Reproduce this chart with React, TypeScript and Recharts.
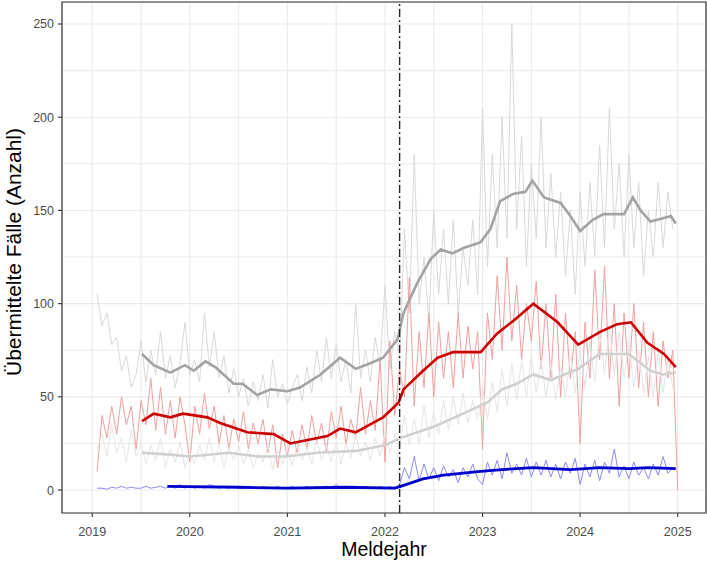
import React from "react";
import {
  LineChart,
  Line,
  XAxis,
  YAxis,
  CartesianGrid,
  ReferenceLine,
  ReferenceArea,
} from "recharts";

// axis ranges and ticks (minor ticks are only used for grid lines)
const X_MIN = 2018.69;
const X_MAX = 2025.29;
const Y_MIN = -12.3;
const Y_MAX = 261.8;
const X_TICKS = [2019, 2019.5, 2020, 2020.5, 2021, 2021.5, 2022, 2022.5, 2023, 2023.5, 2024, 2024.5, 2025];
const Y_TICKS = [0, 25, 50, 75, 100, 125, 150, 175, 200, 225, 250];

// marker line (dash-dot)
const EVENT_YEAR = 2022.15;

// noisy series: one value per sample, samples start at NOISE_START
const NOISE_START = 2019.05;
const NOISE_STEP = 0.05;

const grayNoise = [
  105, 88, 95, 78, 82, 64, 72, 55, 62, 80,
  58, 75, 62, 85, 60, 72, 55, 68, 90, 62,
  70, 58, 95, 66, 85, 60, 72, 52, 65, 50,
  60, 45, 58, 48, 62, 44, 70, 50, 57, 46,
  55, 62, 48, 66, 52, 75, 58, 82, 60, 78,
  58, 70, 52, 100, 60, 75, 58, 82, 66, 110,
  65, 85, 70, 140, 95, 180, 100, 125, 90, 150,
  105, 140, 100, 145, 95, 130, 110, 145, 105, 205,
  120, 180, 130, 200, 135, 250, 140, 190, 120, 175,
  135, 200, 130, 170, 125, 160, 115, 150, 105, 160,
  120, 165, 125, 185, 130, 205, 140, 175, 125, 180,
  130, 165, 115, 150, 125, 165, 130, 160, 140,
];

const redNoise = [
  10, 40, 28, 45, 30, 50, 35, 45, 22, 48,
  35, 60, 32, 55, 30, 48, 28, 50, 35, 15,
  45, 30, 52, 33, 45, 25, 40, 22, 38, 26,
  42, 22, 36, 25, 38, 20, 35, 12, 30, 18,
  32, 20, 35, 22, 40, 25, 36, 20, 42, 28,
  45, 25, 38, 28, 55, 30, 48, 32, 70, 15,
  80, 40, 65, 50, 114, 45, 85, 55, 95, 50,
  90, 60, 85, 55, 95, 60, 88, 65, 85, 22,
  95, 70, 115, 75, 125, 80, 110, 70, 100, 80,
  112, 65, 100, 60, 105, 50, 95, 60, 85, 25,
  90, 60, 118, 70, 120, 60, 100, 45, 95, 60,
  100, 55, 90, 50, 85, 45, 80, 60, 75, 0,
];

const lightNoise = [
  22, 30, 18, 35, 20, 28, 15, 32, 18, 25,
  14, 24, 16, 28, 12, 22, 15, 26, 12, 20,
  14, 24, 16, 28, 15, 25, 12, 23, 16, 24,
  14, 22, 12, 20, 15, 24, 11, 21, 14, 22,
  13, 25, 16, 23, 14, 27, 16, 24, 15, 26,
  14, 25, 17, 30, 18, 26, 16, 28, 18, 32,
  20, 30, 22, 40, 24, 38, 25, 45, 28, 42,
  30, 48, 32, 50, 35, 52, 36, 48, 38, 55,
  38, 58, 42, 65, 45, 68, 48, 70, 50, 72,
  52, 70, 50, 68, 48, 66, 50, 72, 52, 75,
  55, 80, 58, 85, 62, 88, 62, 85, 60, 80,
  55, 75, 52, 72, 50, 75, 52, 70, 55,
];

const blueNoise = [
  1, 1, 0.5, 1.5, 1, 2, 1, 1.5, 1, 1,
  2, 1, 1.5, 2, 1, 2, 1, 3, 1, 2,
  1, 2, 1, 3, 2, 1, 2, 1, 2, 1,
  1, 2, 1, 1, 2, 1, 1, 2, 1, 1,
  2, 1, 1, 2, 1, 2, 1, 2, 1, 3,
  1, 2, 1, 2, 1, 2, 1, 1, 2, 1,
  2, 1, 3, 12, 6, 18, 5, 14, 6, 12,
  5, 13, 7, 11, 4, 12, 7, 14, 6, 3,
  15, 8, 16, 6, 20, 9, 14, 8, 17, 7,
  15, 8, 16, 7, 14, 6, 15, 9, 17, 3,
  14, 7, 16, 5, 15, 9, 22, 7, 13, 6,
  15, 8, 12, 6, 14, 8, 18, 9, 12,
];

// smoothed series as [year, value]
const grayTrend = [
  [2019.51, 73], [2019.63, 67], [2019.8, 63], [2019.95, 67], [2020.04, 64],
  [2020.16, 69], [2020.26, 66], [2020.45, 57], [2020.54, 57], [2020.69, 51],
  [2020.83, 54], [2021.0, 53], [2021.13, 55], [2021.34, 62], [2021.54, 71],
  [2021.7, 65], [2021.85, 68], [2021.98, 71], [2022.13, 81], [2022.19, 95],
  [2022.33, 111], [2022.47, 124], [2022.57, 129], [2022.69, 127], [2022.81, 130],
  [2022.93, 132], [2022.98, 133], [2023.08, 140], [2023.18, 155], [2023.32, 159],
  [2023.44, 160], [2023.51, 166], [2023.63, 157], [2023.8, 154], [2023.9, 147],
  [2024.0, 139], [2024.13, 145], [2024.24, 148], [2024.45, 148], [2024.54, 157],
  [2024.62, 150], [2024.72, 144], [2024.86, 146], [2024.93, 147], [2024.98, 143],
];

const redTrend = [
  [2019.51, 37], [2019.63, 41], [2019.8, 39], [2019.93, 41], [2020.18, 39],
  [2020.31, 36], [2020.59, 31], [2020.86, 30], [2021.03, 25], [2021.13, 26],
  [2021.41, 29], [2021.54, 33], [2021.7, 31], [2021.98, 39], [2022.14, 47],
  [2022.19, 54], [2022.39, 64], [2022.54, 71], [2022.7, 74], [2022.98, 74],
  [2023.15, 84], [2023.32, 91], [2023.52, 100], [2023.77, 90], [2023.98, 78],
  [2024.21, 85], [2024.38, 89], [2024.52, 90], [2024.69, 79], [2024.86, 73],
  [2024.98, 66],
];

const lightTrend = [
  [2019.51, 20], [2019.8, 19], [2020.0, 18], [2020.4, 20], [2020.7, 18],
  [2021.0, 18], [2021.3, 20], [2021.7, 21], [2022.0, 24], [2022.16, 28],
  [2022.5, 34], [2022.8, 41], [2023.05, 47], [2023.2, 54], [2023.35, 57],
  [2023.52, 62], [2023.7, 59], [2023.98, 65], [2024.2, 73], [2024.5, 73],
  [2024.72, 64], [2024.85, 62], [2024.98, 63],
];

const blueTrend = [
  [2019.77, 2], [2020.5, 1.5], [2021.0, 1], [2021.6, 1.5], [2022.1, 1],
  [2022.16, 2], [2022.39, 6], [2022.6, 8], [2022.98, 10], [2023.2, 11],
  [2023.52, 12], [2023.9, 11], [2024.2, 12], [2024.5, 11.5], [2024.7, 12],
  [2024.98, 11.5],
];

const FONT = "'Liberation Sans', Arial, sans-serif";

const fromNoise = (vals: number[]) =>
  vals.map((v, i) => ({ x: NOISE_START + i * NOISE_STEP, v }));
const fromPairs = (pairs: number[][]) => pairs.map(([x, v]) => ({ x, v }));

function XTick(props: any) {
  const { x, y, payload } = props;
  const v = payload.value as number;
  if (!Number.isInteger(v)) return <g />;
  return (
    <g>
      <line x1={x} x2={x} y1={y} y2={y + 4} stroke="#333333" strokeWidth={1.1} />
      <text x={x} y={y + 22.5} textAnchor="middle" fontSize={12.5} fontFamily={FONT} fill="#4d4d4d">
        {v}
      </text>
    </g>
  );
}

function YTick(props: any) {
  const { x, y, payload } = props;
  const v = payload.value as number;
  if (v % 50 !== 0) return <g />;
  return (
    <g>
      <line x1={x - 4} x2={x} y1={y} y2={y} stroke="#333333" strokeWidth={1.1} />
      <text x={x - 8} y={y + 4.5} textAnchor="end" fontSize={12.5} fontFamily={FONT} fill="#4d4d4d">
        {v}
      </text>
    </g>
  );
}

export default function App() {
  return (
    <div style={{ position: "absolute", left: 0, top: 0, background: "#fff" }}>
      <LineChart
        width={707}
        height={562}
        margin={{ top: 2, right: 1, bottom: 0, left: 0 }}
      >
        <CartesianGrid stroke="#ebebeb" strokeWidth={1.1} />
        <XAxis
          dataKey="x"
          type="number"
          domain={[X_MIN, X_MAX]}
          ticks={X_TICKS}
          interval={0}
          allowDataOverflow
          height={49}
          axisLine={false}
          tickLine={false}
          tickSize={0}
          tickMargin={0}
          tick={(p: any) => <XTick {...p} />}
        />
        <YAxis
          type="number"
          domain={[Y_MIN, Y_MAX]}
          ticks={Y_TICKS}
          interval={0}
          allowDataOverflow
          width={62}
          axisLine={false}
          tickLine={false}
          tickSize={0}
          tickMargin={0}
          tick={(p: any) => <YTick {...p} />}
        />
        <Line data={fromNoise(grayNoise)} dataKey="v" stroke="#d9d9d9" strokeWidth={1} dot={false} isAnimationActive={false} />
        <Line data={fromNoise(redNoise)} dataKey="v" stroke="#f0a0a0" strokeWidth={1} dot={false} isAnimationActive={false} />
        <Line data={fromNoise(lightNoise)} dataKey="v" stroke="#e6e6e6" strokeWidth={1} dot={false} isAnimationActive={false} />
        <Line data={fromNoise(blueNoise)} dataKey="v" stroke="#8c8cf2" strokeWidth={1} dot={false} isAnimationActive={false} />
        <Line data={fromPairs(grayTrend)} dataKey="v" stroke="#a3a3a3" strokeWidth={2.6} dot={false} isAnimationActive={false} />
        <Line data={fromPairs(redTrend)} dataKey="v" stroke="#cc0000" strokeWidth={2.6} dot={false} isAnimationActive={false} />
        <Line data={fromPairs(lightTrend)} dataKey="v" stroke="#d0d0d0" strokeWidth={2.6} dot={false} isAnimationActive={false} />
        <Line data={fromPairs(blueTrend)} dataKey="v" stroke="#0000cc" strokeWidth={2.8} dot={false} isAnimationActive={false} />
        <ReferenceLine x={EVENT_YEAR} stroke="#222222" strokeWidth={1.4} strokeDasharray="8 3 2 3" />
        <ReferenceArea
          x1={X_MIN}
          x2={X_MAX}
          y1={Y_MIN}
          y2={Y_MAX}
          fill="none"
          fillOpacity={0}
          stroke="#333333"
          strokeWidth={1.2}
        />
        <text x={384} y={555.5} textAnchor="middle" fontSize={19.5} fontFamily={FONT} fill="#000">
          Meldejahr
        </text>
        <text
          x={21}
          y={252}
          transform="rotate(-90 21 252)"
          textAnchor="middle"
          fontSize={19.5}
          fontFamily={FONT}
          fill="#000"
          textLength={248}
          lengthAdjust="spacingAndGlyphs"
        >
          Übermittelte Fälle (Anzahl)
        </text>
      </LineChart>
    </div>
  );
}
